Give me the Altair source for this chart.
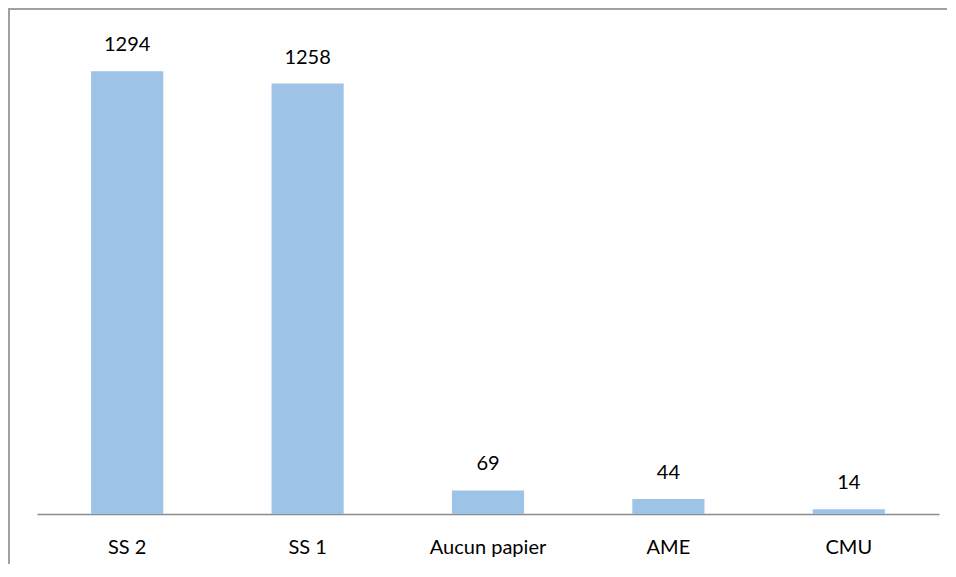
import altair as alt
import pandas as pd

categories = ["SS 2", "SS 1", "Aucun papier", "AME", "CMU"]
values = [1294, 1258, 69, 44, 14]

df = pd.DataFrame({"cat": categories, "val": values})

W = 902
H = 479
FONT = "Lato"

x_enc = alt.X(
    "cat:N",
    sort=categories,
    scale=alt.Scale(paddingInner=0.6, paddingOuter=0.3),
    axis=alt.Axis(
        title=None,
        labelAngle=0,
        ticks=False,
        domainColor="#8c8c8c",
        domainWidth=1.5,
        labelFont=FONT,
        labelFontSize=20,
        labelColor="#000000",
        labelPadding=23,
        grid=False,
    ),
)
y_enc = alt.Y("val:Q", scale=alt.Scale(domain=[0, 1400]), axis=None)

base = alt.Chart(df)

bars = base.mark_bar(color="#9DC3E6").encode(x=x_enc, y=y_enc)

labels = base.mark_text(
    font=FONT, fontSize=20, color="#000000", baseline="alphabetic", dy=-20
).encode(x=x_enc, y=y_enc, text="val:Q")

border_left = base.mark_rule(color="#a0a0a0", strokeWidth=1.5).encode(
    x=alt.value(-28.25), y=alt.value(-27), y2=alt.value(H + 60)
)
border_top = base.mark_rule(color="#a0a0a0", strokeWidth=1.5).encode(
    x=alt.value(-29), x2=alt.value(W + 8), y=alt.value(-26.25)
)

chart = (
    alt.layer(bars, labels, border_left, border_top)
    .properties(
        width=W,
        height=H,
        background="white",
        padding={"left": 29, "top": 27, "right": 9, "bottom": 50},
        autosize=alt.AutoSizeParams(type="none"),
    )
    .configure_view(strokeWidth=0)
)

chart.save("out.html", embed_options={"renderer": "svg", "actions": False})
